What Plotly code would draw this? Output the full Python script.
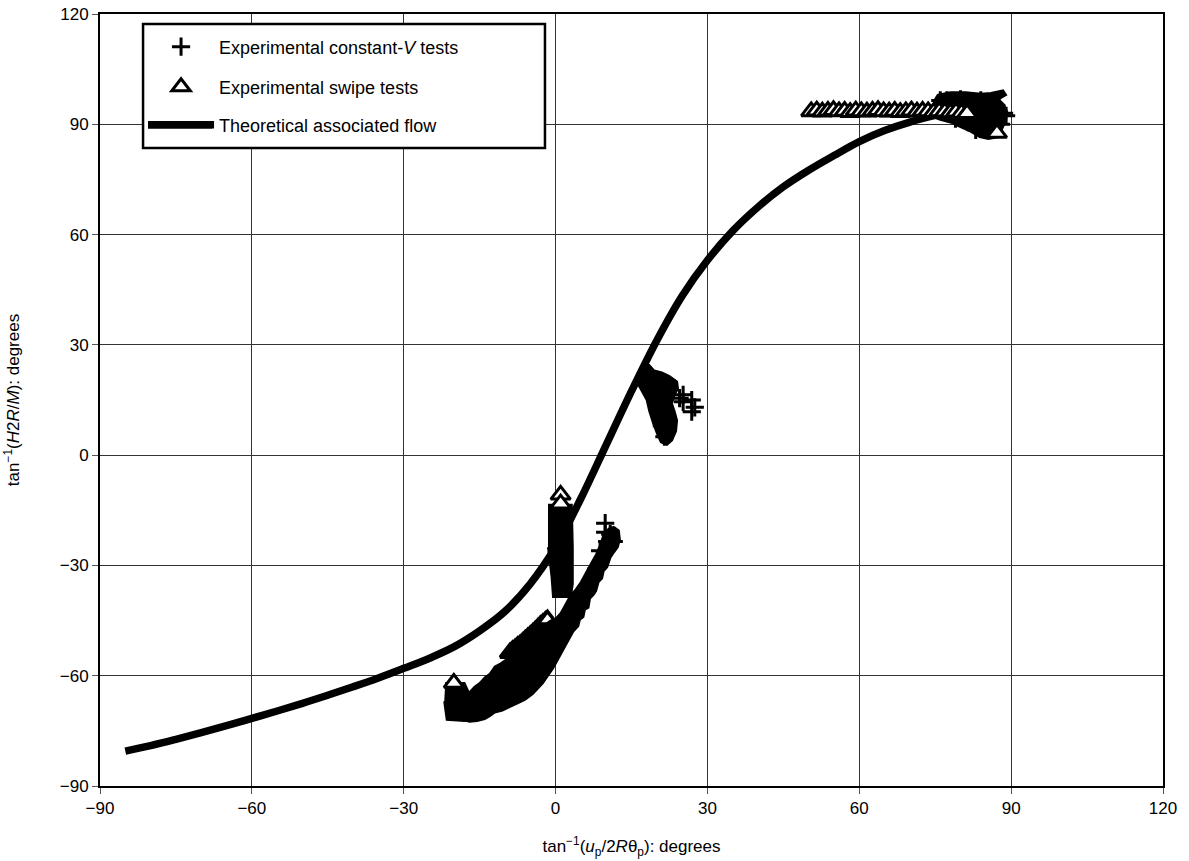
import plotly.graph_objects as go

# ---------------- data ----------------
# Theoretical associated flow curve
theory_x = [-85, -80, -75, -70, -65, -60, -55, -50, -45, -40, -35, -30, -25, -20, -15, -10, -5, 0, 5, 10,
            15, 20, 25, 30, 35, 40, 45, 50, 55, 60, 65, 70, 75, 80, 85, 88]
theory_y = [-80.5, -79, -77.3, -75.5, -73.6, -71.6, -69.6, -67.5, -65.3, -63, -60.6, -58, -55.3, -52.1, -47.8, -42.5, -35, -25, -11.8, 2.8,
            17.4, 31.2, 43.3, 53, 61, 67.5, 73, 77.5, 81.5, 85.3, 88.3, 90.6, 92.4, 93.9, 95.2, 96]

# Experimental constant-V tests: individually visible points
constv_x = [-16, -12, -8, -4, 0, 3, 6, 8, 9.8, 9.8, 10.2, 10.8, 11.5, 8.8,
            19, 20, 20.5, 21, 21.5, 24.5, 25.2, 25.2, 26.9, 26.9, 27.5,
            80, 82, 85, 76, 77.3, 80, 84, 86.5, 88.6, 89, 88, 83, 79]
constv_y = [-68, -64, -60, -56, -51, -45, -37, -31, -18.5, -21, -23.5, -21.5, -23.5, -26,
            21, 17, 12, 8, 5, 15.5, 16.4, 14.5, 15, 11.8, 13,
            95, 94, 92, 96.5, 96.5, 96.8, 96.5, 95, 93, 92.3, 90, 88.5, 91.5]

# Experimental constant-V tests: envelopes of the dense point clouds (lower band, middle, upper)
constv_cloud_x = [-18.5, -17, -16, -15, -14, -13, -12, -11, -10, -9, -8, -7, -6, -5, -4, -3, -2, -1, 0, 1,
                  2, 3, 4, 5, 6, 7, 8, 8.8, 9.5, 10.5, 11.5, 12.5, 12.7,
                  12.3, 11.5, 10.8, 10.2, 9.5, 9.2, 8.5, 8, 7.5, 6.8, 6.5, 5.8, 5.5, 4.8, 4.5, 3.5, 2.5, 1.5,
                  0.5, -0.5, -1.5, -2.5, -3.5, -4.5, -6, -7.5, -9, -10.5, -12, -13, -14, -15.5, -17, -18.5, None,
                  17.3, 18.5, 19.5, 21, 22.5, 24, 24.2, 23.5, 23, 23.5, 24, 23.8, 23, 22, 20.8, 20, 19.2, 18.5,
                  18, 17, 16.2, 16.1, 16.8, None,
                  74.6, 75.5, 78, 81, 84, 86, 88.4, 89, 87.5, 88.5, 89.2, 89, 88.4, 87.5, 85.5, 83.8, 82, 79.9,
                  78, 76, 74.5, 74]
constv_cloud_y = [-65.5, -64.5, -63, -62, -60.5, -59.5, -57.5, -56.8, -55.8, -55, -53.8, -52.8, -51.5, -50.2,
                  -48.8, -47.5, -46, -45, -44.5, -43, -40.5, -38, -36.5, -34.5, -32, -29.5, -27, -24.5, -21.5,
                  -20, -19.5, -20.5, -23,
                  -25, -26.5, -28, -30.5, -31.5, -33.5, -34.5, -37, -38, -39, -41.5, -42, -44, -44.8, -46.5,
                  -48, -50.5, -53, -55.5, -58, -60, -62, -63.5, -65, -66.5, -67.5, -68.5, -69.5, -70, -71,
                  -71.8, -72.3, -72.5, -72, None,
                  24.5, 24.5, 23, 22.5, 21.5, 20, 18, 16.5, 14, 12, 9.5, 6.5, 4, 2.8, 3.5, 6, 9, 12,
                  15, 17.5, 19.5, 22, 23.5, None,
                  96, 98, 98.7, 98.7, 98.3, 98.5, 99.2, 98, 96.8, 95.5, 93.5, 91, 89.3, 86.5, 86, 86.5, 88, 89.3,
                  90.5, 91.2, 92, 94]

# Experimental swipe tests: individually visible points
swipe_x = [50.5, 51.6, 52.7, 53.8, 54.9, 56.0, 57.1, 58.2, 59.3, 60.4, 61.5, 62.6, 63.7, 64.8, 65.9, 67.0,
           68.1, 69.2, 70.3, 71.4, 72.5, 73.6, 74.7, 75.8, 76.9, 78.0, 79.1, 80.2, 81.3,
           87.2, 1, 1, -20.1]
swipe_y = [93.5, 93.7, 93.4, 93.6, 93.8, 93.5, 93.6, 93.3, 93.7, 93.5, 93.4, 93.6, 93.8, 93.5, 93.4, 93.6,
           93.3, 93.5, 93.7, 93.4, 93.6, 93.5, 93.3, 93.5, 93.4, 93.2, 93.4, 93.1, 93.0,
           87.6, -10.8, -13.2, -62]
# swipe points lying along the top of the lower band
swipe_band_x = [-9, -8.5, -8, -7.5, -7, -6.5, -6, -5.5, -5, -4.5, -4, -3.5, -3, -2.5, -2, -1.6]
swipe_band_y = [-53.8, -53.2, -52.7, -52.1, -51.6, -51, -50.3, -49.7, -49.1, -48.5, -47.8, -47.1, -46.4, -45.8, -45.2, -44.8]
# swipe tests: envelopes of the dense point clouds (columns below x = 0 and x = -20)
swipe_cloud_x = [-1.5, 3.2, 3.4, 3.4, 3.0, -0.5, -0.8, -1.5, None,
                 -21.8, -18, -17, -16.9, -18, -21.5, -22]
swipe_cloud_y = [-13.5, -13.5, -25, -35, -38.6, -38.6, -33, -25, None,
                 -62, -62, -65, -71, -72.3, -72, -67]

tick_vals = [-90, -60, -30, 0, 30, 60, 90, 120]

FONT = "Liberation Sans, Arial, sans-serif"

fig = go.Figure()

fig.add_trace(go.Scatter(x=theory_x, y=theory_y, mode="lines", name="Theoretical associated flow",
                         line=dict(color="black", width=7.5, shape="spline", smoothing=1),
                         legend="legend3", hoverinfo="skip"))
fig.add_trace(go.Scatter(x=swipe_band_x, y=swipe_band_y, mode="markers", showlegend=False, hoverinfo="skip",
                         marker=dict(symbol="triangle-up", size=17, color="white",
                                     line=dict(color="black", width=3.5))))
fig.add_trace(go.Scatter(x=constv_cloud_x, y=constv_cloud_y, mode="lines", fill="toself", fillcolor="black",
                         showlegend=False, hoverinfo="skip", connectgaps=False,
                         line=dict(color="black", width=2, simplify=False)))
fig.add_trace(go.Scatter(x=constv_x, y=constv_y, mode="markers", name="Experimental constant-<i>V</i> tests",
                         legend="legend",
                         marker=dict(symbol="cross-thin", size=13, color="black",
                                     line=dict(color="black", width=3))))
fig.add_trace(go.Scatter(x=swipe_cloud_x, y=swipe_cloud_y, mode="lines", fill="toself", fillcolor="black",
                         showlegend=False, hoverinfo="skip", connectgaps=False,
                         line=dict(color="black", width=2, simplify=False)))
fig.add_trace(go.Scatter(x=swipe_x, y=swipe_y, mode="markers", name="Experimental swipe tests",
                         legend="legend2",
                         marker=dict(symbol="triangle-up", size=17, color="white",
                                     line=dict(color="black", width=3))))

axis_common = dict(range=[-90, 120], tickvals=tick_vals, showgrid=True, gridcolor="#333333", gridwidth=1,
                   zeroline=False, showline=True, linecolor="black", linewidth=2, mirror=True,
                   ticks="outside", ticklen=6, tickcolor="#555555", tickwidth=1,
                   tickfont=dict(family=FONT, size=17, color="black"))

fig.update_xaxes(**axis_common,
                 title=dict(text="tan<sup>−1</sup>(<i>u</i><sub>p</sub>/2<i>R</i>θ<sub>p</sub>): degrees",
                            font=dict(family=FONT, size=17, color="black"), standoff=23))
fig.update_yaxes(**axis_common,
                 title=dict(text="tan<sup>−1</sup>(<i>H</i>2<i>R</i>/<i>M</i>): degrees",
                            font=dict(family=FONT, size=17, color="black"), standoff=36))

leg_common = dict(xanchor="left", yanchor="middle", bgcolor="rgba(0,0,0,0)", borderwidth=0,
                  font=dict(family=FONT, size=18, color="black"), itemwidth=66)

fig.update_layout(
    width=1189, height=861,
    margin=dict(l=100, r=26, t=14, b=75, autoexpand=False),
    paper_bgcolor="white", plot_bgcolor="white",
    showlegend=True,
    legend=dict(x=0.0405, y=0.9573, **leg_common),
    legend2=dict(x=0.0405, y=0.9054, **leg_common),
    legend3=dict(x=0.0405, y=0.8562, **leg_common),
    shapes=[
        dict(type="rect", xref="paper", yref="paper", x0=0.0405, x1=0.4186, y0=0.8264, y1=0.987,
             line=dict(color="black", width=2.5), fillcolor="white", layer="above"),
        dict(type="line", xref="paper", yref="paper", x0=0.0452, x1=0.1054, y0=0.8562, y1=0.8562,
             line=dict(color="black", width=7), layer="above"),
    ],
)

fig.write_html("out.html")
